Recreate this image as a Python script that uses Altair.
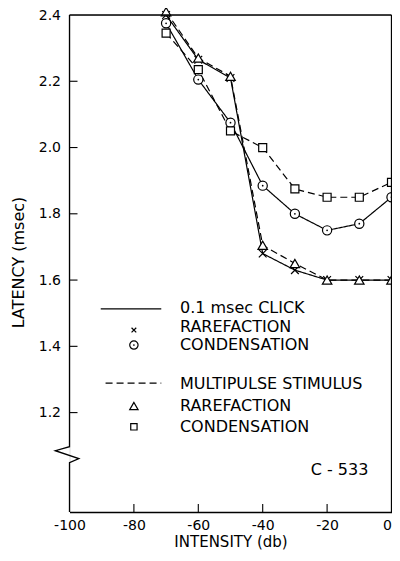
import altair as alt
import pandas as pd

# ---- data ----
intensity = [-70, -60, -50, -40, -30, -20, -10, 0]
click_rare = [2.40, 2.265, 2.21, 1.68, 1.63, 1.60, 1.60, 1.60]
click_cond = [2.375, 2.205, 2.075, 1.885, 1.80, 1.75, 1.77, 1.85]
multi_rare = [2.41, 2.27, 2.215, 1.705, 1.65, 1.60, 1.60, 1.60]
multi_cond = [2.345, 2.235, 2.05, 2.00, 1.875, 1.85, 1.85, 1.895]

x_ticks = [-100, -80, -60, -40, -20, 0]
y_ticks = [1.2, 1.4, 1.6, 1.8, 2.0, 2.2, 2.4]

legend_text = ["0.1 msec CLICK", "RAREFACTION", "CONDENSATION",
               "MULTIPULSE STIMULUS", "RAREFACTION", "CONDENSATION"]
legend_text_y = [1.516, 1.459, 1.404, 1.287, 1.220, 1.157]
legend_sym_y = [1.449, 1.404, 1.220, 1.157]
legend_line_y = [1.513, 1.289]
legend_line_x = [-90.3, -88.8]
legend_line_style = ["click", "multi"]
label_code = "C - 533"

W, H = 322, 497
FONT = "DejaVu Sans"
XD = [-100, 0]
YD = [0.9, 2.4]

series_names = ["click_rare", "click_cond", "multi_rare", "multi_cond"]
series_vals = [click_rare, click_cond, multi_rare, multi_cond]
series_stim = ["click", "click", "multi", "multi"]
series_shape = ["M-1,-1L1,1M-1,1L1,-1", "circle", "triangle-up", "square"]
plot_size = [60, 85, 90, 64]
legend_size = [22, 70, 70, 40]

rows = []
for name, vals, stim in zip(series_names, series_vals, series_stim):
    for xv, yv in zip(intensity, vals):
        rows.append({"intensity": xv, "latency": yv, "series": name, "stim": stim})
df = pd.DataFrame(rows)

xs = alt.Scale(domain=XD, nice=False, zero=False)
ys = alt.Scale(domain=YD, nice=False, zero=False)

X = alt.X("intensity:Q", scale=xs,
          axis=alt.Axis(values=x_ticks, ticks=False, grid=False, domain=True,
                        domainColor="black", domainWidth=1.3,
                        labelFont=FONT, labelFontSize=14, labelColor="black",
                        labelPadding=6, labelFlush=False,
                        labelAlign={"condition": {"test": "datum.value == 0", "value": "right"},
                                    "value": "center"},
                        labelExpr="datum.value == 0 ? '0' : '-' + abs(datum.value)",
                        title="INTENSITY (db)", titleFont=FONT, titleFontSize=15,
                        titleFontWeight="normal", titleColor="black", titlePadding=2))
Y = alt.Y("latency:Q", scale=ys,
          axis=alt.Axis(values=y_ticks, ticks=False, grid=False, domain=False,
                        labelFont=FONT, labelFontSize=14, labelColor="black",
                        labelPadding=9, format=".1f",
                        title="LATENCY (msec)", titleFont=FONT, titleFontSize=16,
                        titleFontWeight="normal", titleColor="black",
                        titleX=-43, titleY=247, titleAngle=-90, titleAlign="center"))

dash_scale = alt.Scale(domain=["click", "multi"], range=[[1, 0], [7, 4]])

lines = alt.Chart(df).mark_line(color="black", strokeWidth=1.2).encode(
    x=X, y=Y, detail="series:N",
    strokeDash=alt.StrokeDash("stim:N", scale=dash_scale, legend=None),
)

layers_pts = []
for name, shp, sz in zip(series_names, series_shape, plot_size):
    layers_pts.append(
        alt.Chart(df[df["series"] == name]).mark_point(
            shape=shp, size=sz, fill="white", stroke="black", strokeWidth=1.2,
            opacity=1, fillOpacity=1).encode(
            x=alt.X("intensity:Q", scale=xs), y=alt.Y("latency:Q", scale=ys)))

dots = alt.Chart(df[df["series"] == "click_cond"]).mark_circle(color="black", size=3, opacity=1).encode(
    x=alt.X("intensity:Q", scale=xs), y=alt.Y("latency:Q", scale=ys))

# frame: top and right borders
one = pd.DataFrame({"a": [0]})
frame_top = alt.Chart(one).mark_rule(color="black", strokeWidth=1.3).encode(
    x=alt.value(0), x2=alt.value(W), y=alt.value(0))
frame_right = alt.Chart(one).mark_rule(color="black", strokeWidth=1.3).encode(
    x=alt.value(W), y=alt.value(0), y2=alt.value(H))

# left axis with break
brk = pd.DataFrame({
    "bx": [-100, -100, -104.4, -97.1, -100, -100],
    "by": [2.4, 1.097, 1.085, 1.061, 1.049, 0.9],
    "o": [0, 1, 2, 3, 4, 5],
})
left_axis = alt.Chart(brk).mark_line(color="black", strokeWidth=1.3, clip=False).encode(
    x=alt.X("bx:Q", scale=xs), y=alt.Y("by:Q", scale=ys), order="o:Q")

# inward ticks
xt = pd.DataFrame({"t": x_ticks[1:-1]})
xtick = alt.Chart(xt).mark_rule(color="black", strokeWidth=1.1).encode(
    x=alt.X("t:Q", scale=xs), y=alt.value(H), y2=alt.value(H - 8))
yt = pd.DataFrame({"t": y_ticks[:-1]})
ytick = alt.Chart(yt).mark_rule(color="black", strokeWidth=1.1).encode(
    y=alt.Y("t:Q", scale=ys), x=alt.value(0), x2=alt.value(8))

# legend
lt = pd.DataFrame({"lx": [-65.7] * len(legend_text), "ly": legend_text_y, "txt": legend_text})
leg_text = alt.Chart(lt).mark_text(font=FONT, fontSize=16, align="left", baseline="middle",
                                   color="black").encode(
    x=alt.X("lx:Q", scale=xs), y=alt.Y("ly:Q", scale=ys), text="txt:N")

leg_syms = []
for name, shp, sz, sy in zip(series_names, series_shape, legend_size, legend_sym_y):
    leg_syms.append(
        alt.Chart(pd.DataFrame({"sx": [-80], "sy": [sy]})).mark_point(
            shape=shp, size=sz, fill="white", stroke="black", strokeWidth=1.2,
            opacity=1, fillOpacity=1).encode(
            x=alt.X("sx:Q", scale=xs), y=alt.Y("sy:Q", scale=ys)))
leg_dot = alt.Chart(pd.DataFrame({"sx": [-80], "sy": [legend_sym_y[1]]})).mark_circle(
    color="black", size=3, opacity=1).encode(
    x=alt.X("sx:Q", scale=xs), y=alt.Y("sy:Q", scale=ys))

ll = pd.DataFrame({"x1": legend_line_x, "x2": [-71.5, -71.5], "ly": legend_line_y,
                   "stim": legend_line_style})
leg_lines = alt.Chart(ll).mark_rule(color="black", strokeWidth=1.2).encode(
    x=alt.X("x1:Q", scale=xs), x2="x2:Q", y=alt.Y("ly:Q", scale=ys),
    strokeDash=alt.StrokeDash("stim:N", scale=dash_scale, legend=None))

code = alt.Chart(pd.DataFrame({"cx": [-7.2], "cy": [1.027], "txt": [label_code]})).mark_text(
    font=FONT, fontSize=16, align="right", baseline="middle", color="black").encode(
    x=alt.X("cx:Q", scale=xs), y=alt.Y("cy:Q", scale=ys), text="txt:N")

chart = alt.layer(
    lines, *layers_pts, dots, frame_top, frame_right, left_axis, xtick, ytick,
    leg_lines, leg_text, *leg_syms, leg_dot, code
).properties(
    width=W, height=H,
    autosize=alt.AutoSizeParams(type="none"),
    padding={"left": 61.5, "top": 7, "right": 0.5, "bottom": 39},
).configure_view(stroke=None).configure(background="white")

chart.save("out.html", embed_options={"renderer": "svg", "actions": False})
